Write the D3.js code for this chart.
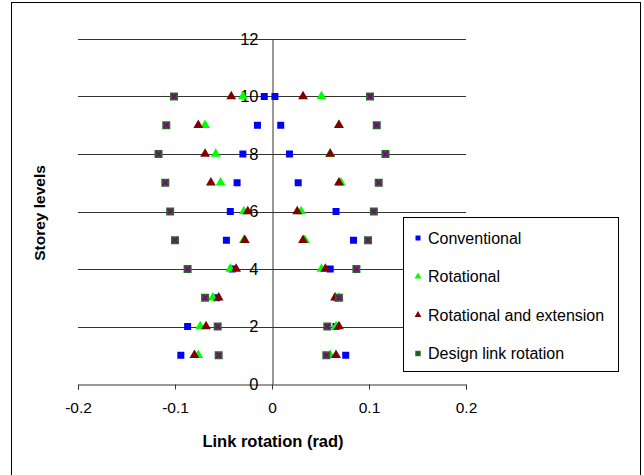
<!DOCTYPE html>
<html>
<head>
<meta charset="utf-8">
<script src="https://cdn.jsdelivr.net/npm/d3@7"></script>
<style>
  body { margin: 0; background: #fff; }
  text { font-family: Arial, "Liberation Sans", sans-serif; }
</style>
</head>
<body>
<div class="canvas"></div>
<script>
// data (two link values per storey: left and right)
const levels = [1, 2, 3, 4, 5, 6, 7, 8, 9, 10];
const conventional = [
  [-0.094, 0.076], [-0.087, 0.066], [-0.057, 0.067], [-0.041, 0.060], [-0.047, 0.084],
  [-0.043, 0.066], [-0.036, 0.027], [-0.030, 0.018], [-0.015, 0.009], [-0.008, 0.003]
];
const rotational = [
  [-0.076, 0.060], [-0.074, 0.066], [-0.061, 0.069], [-0.043, 0.051], [-0.029, 0.034],
  [-0.029, 0.030], [-0.053, 0.071], [-0.058, 0.060], [-0.069, 0.069], [-0.030, 0.051]
];
const rotExtension = [
  [-0.080, 0.066], [-0.068, 0.069], [-0.055, 0.065], [-0.037, 0.055], [-0.028, 0.032],
  [-0.025, 0.026], [-0.063, 0.069], [-0.069, 0.060], [-0.076, 0.069], [-0.042, 0.032]
];
const designLink = [
  [-0.055, 0.056], [-0.056, 0.057], [-0.069, 0.069], [-0.087, 0.087], [-0.100, 0.099],
  [-0.105, 0.105], [-0.110, 0.110], [-0.117, 0.117], [-0.109, 0.108], [-0.101, 0.101]
];
const xTicks = [-0.2, -0.1, 0, 0.1, 0.2];
const yTicks = [0, 2, 4, 6, 8, 10, 12];
const seriesNames = ['Conventional', 'Rotational', 'Rotational and extension', 'Design link rotation'];

const width = 644, height = 475;

const svg = d3.select('.canvas')
  .append('svg')
    .attr('width', width)
    .attr('height', height);

// outer chart frame
svg.append('rect')
  .attr('x', 11.5).attr('y', 2.5)
  .attr('width', 629).attr('height', 480)
  .attr('fill', 'none').attr('stroke', '#000');

const x = d3.scaleLinear().domain([-0.2, 0.2]).range([78, 466]);
const y = d3.scaleLinear().domain([0, 12]).range([384, 39]);

// horizontal gridlines
svg.append('g')
  .selectAll('line')
  .data(yTicks.filter(d => d > 0))
  .enter().append('line')
    .attr('x1', x(-0.2)).attr('x2', x(0.2))
    .attr('y1', d => Math.round(y(d)) + 0.5)
    .attr('y2', d => Math.round(y(d)) + 0.5)
    .attr('stroke', '#333');

// x axis at y = 0, ticks pointing down
const xAxisGroup = svg.append('g')
  .attr('transform', `translate(0, ${Math.round(y(0)) + 0.5})`)
  .call(d3.axisBottom(x).tickValues(xTicks).tickSize(5).tickSizeOuter(5).tickFormat(d => String(d)));
xAxisGroup.select('.domain').attr('stroke', '#333');
xAxisGroup.selectAll('.tick line').attr('stroke', '#333');
xAxisGroup.selectAll('text')
  .attr('y', 17)
  .attr('font-size', 15.5)
  .attr('font-family', 'Arial, "Liberation Sans", sans-serif')
  .attr('fill', '#000');

// y axis at x = 0
const yAxisGroup = svg.append('g')
  .attr('transform', `translate(${Math.round(x(0)) + 0.5}, 0)`)
  .call(d3.axisLeft(y).tickValues(yTicks).tickSize(0).tickPadding(14));
yAxisGroup.select('.domain').attr('stroke', '#333');
yAxisGroup.selectAll('text')
  .attr('font-size', 16.5)
  .attr('font-family', 'Arial, "Liberation Sans", sans-serif')
  .attr('fill', '#000');

// axis titles
svg.append('text')
  .attr('x', 273).attr('y', 447)
  .attr('text-anchor', 'middle')
  .attr('font-size', 16.5).attr('font-weight', 'bold')
  .text('Link rotation (rad)');

svg.append('text')
  .attr('transform', 'translate(45, 213) rotate(-90)')
  .attr('text-anchor', 'middle')
  .attr('font-size', 15.5).attr('font-weight', 'bold')
  .text('Storey levels');

// flatten [left,right] pairs to points
const toPoints = arr => arr.flatMap((pair, i) => pair.map(v => ({x: v, y: levels[i]})));

const square = d3.symbol().type(d3.symbolSquare);
const triangle = d3.symbol().type(d3.symbolTriangle);
const cross = d3.symbol().type(d3.symbolX);

const plot = svg.append('g');

const drawSeries = (data, sym, size, fill) => {
  plot.append('g').selectAll('path')
    .data(toPoints(data))
    .enter().append('path')
      .attr('d', sym.size(size)())
      .attr('transform', d => `translate(${x(d.x)}, ${y(d.y)})`)
      .attr('fill', fill);
};

drawSeries(conventional, square, 49, '#0000ff');
drawSeries(rotational, triangle, 42, '#00ff00');
drawSeries(rotExtension, triangle, 42, '#800000');
drawSeries(designLink, square, 64, '#2a6a2a');
plot.append('g').selectAll('path')
  .data(toPoints(designLink))
  .enter().append('path')
    .attr('d', cross.size(16)())
    .attr('transform', d => `translate(${x(d.x)}, ${y(d.y)})`)
    .attr('fill', 'none')
    .attr('stroke', '#800080')
    .attr('stroke-width', 1.8);

// legend
const legend = svg.append('g');
legend.append('rect')
  .attr('x', 403.5).attr('y', 217.5)
  .attr('width', 215).attr('height', 154)
  .attr('fill', '#fff').attr('stroke', '#000');

const legendSyms = [
  {sym: square, size: 25, fill: '#0000ff'},
  {sym: triangle, size: 20, fill: '#00ff00'},
  {sym: triangle, size: 20, fill: '#800000'},
  {sym: square, size: 30, fill: '#2a6a2a'}
];

const items = legend.selectAll('g.item')
  .data(seriesNames)
  .enter().append('g')
    .attr('class', 'item')
    .attr('transform', (d, i) => `translate(418, ${238 + i * 38.5})`);

items.append('path')
  .attr('d', (d, i) => legendSyms[i].sym.size(legendSyms[i].size)())
  .attr('fill', (d, i) => legendSyms[i].fill);

items.filter((d, i) => i === 3).append('path')
  .attr('d', cross.size(4)())
  .attr('stroke', '#1a3a1a')
  .attr('stroke-width', 1);

items.append('text')
  .attr('x', 10)
  .attr('dy', '0.35em')
  .attr('font-size', 16)
  .text(d => d);
</script>
</body>
</html>
